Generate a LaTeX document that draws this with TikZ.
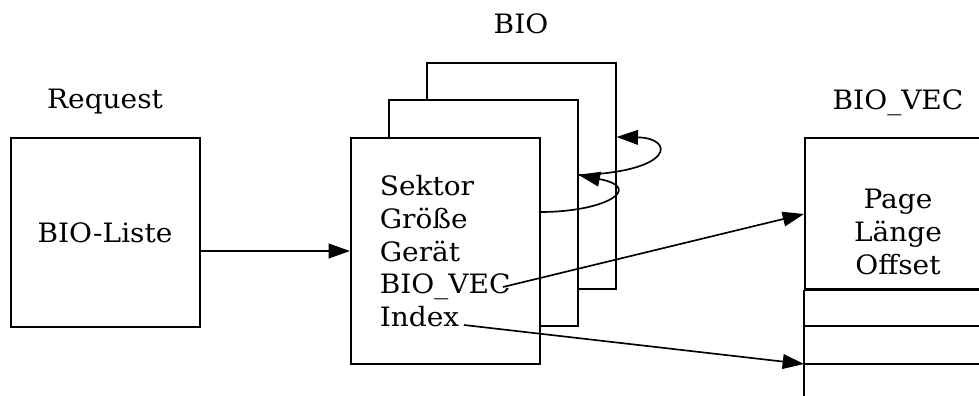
\documentclass[tikz,border=0pt]{standalone}
\usepackage{fontspec}
\setmainfont[FakeStretch=1.05]{DejaVu Serif}
\usetikzlibrary{arrows.meta}
\begin{document}
\begin{tikzpicture}[x=0.75pt,y=-0.75pt,line width=1.25pt,
  box/.style={draw,rectangle,inner sep=0pt,anchor=north west,fill=white},
  biobox/.style={box,minimum width=141.75pt,minimum height=169.5pt},
  lbl/.style={font=\fontsize{20pt}{24.75pt}\selectfont,inner sep=0pt},
  arr/.style={-{Triangle[length=16pt,width=11pt]}},
]
\useasboundingbox (0,0) rectangle (979,396);
\clip (0,0) rectangle (979,396);

% Request
\node[lbl,anchor=base] (reqtitle) at (105,108) {Request};
\node[box,minimum width=141.75pt,minimum height=141.75pt] (req) at (10,137) {};
\node[lbl,anchor=base] (liste) at (105,242) {BIO-Liste};

% stacked BIO structures
\node[lbl,anchor=base] (biotitle) at (521,33) {BIO};
\node[biobox] (bio3) at (426,62) {};
\node[biobox] (bio2) at (388,99) {};
\node[biobox] (bio1) at (350,137) {};
\node[lbl,anchor=base west] (sektor) at (379,195) {Sektor};
\node[lbl,anchor=base west] (groesse) at (379,228) {Größe};
\node[lbl,anchor=base west] (geraet) at (379,261) {Gerät};
\node[lbl,anchor=base west] (biovec) at (379,293) {BIO\_VEC};
\node[lbl,anchor=base west] (index) at (379,326) {Index};

% BIO_VEC array
\node[lbl,anchor=base] (vectitle) at (898,109) {BIO\_VEC};
\node[box,minimum width=150pt,minimum height=113.25pt] (vec) at (804,137) {};
\node[lbl,anchor=base] (page) at (898,208) {Page};
\node[lbl,anchor=base] (laenge) at (898,241) {Länge};
\node[lbl,anchor=base] (offset) at (898,274) {Offset};
\coordinate (row1) at (804,326);
\coordinate (row2) at (804,364);
\coordinate (vecend) at (804,400);
\draw[line width=1.7pt] (vec.south west) -- ++(200,0);
\draw (vec.south west) -- (vecend);
\draw (row1) -- ++(200,0);
\draw (row2) -- ++(200,0);

% connectors
\coordinate (reqout) at (req.east |- 0,251);
\draw[arr] (reqout) -- (bio1.west |- reqout);

\coordinate (next1) at (bio1.east |- 0,212);
\coordinate (in2) at (bio2.east |- 0,175);
\draw[arr] (next1) .. controls (605,212) and (645,188) .. (in2);
\coordinate (in3) at (bio3.east |- 0,137);
\draw[arr] (in2) .. controls (675,172) and (675,138) .. (in3);

\coordinate (vecfrom) at (503,287);
\draw[arr] (vecfrom) -- (vec.west |- 0,214);
\coordinate (idxfrom) at (464,325);
\draw[arr] (idxfrom) -- (row2);
\end{tikzpicture}
\end{document}
